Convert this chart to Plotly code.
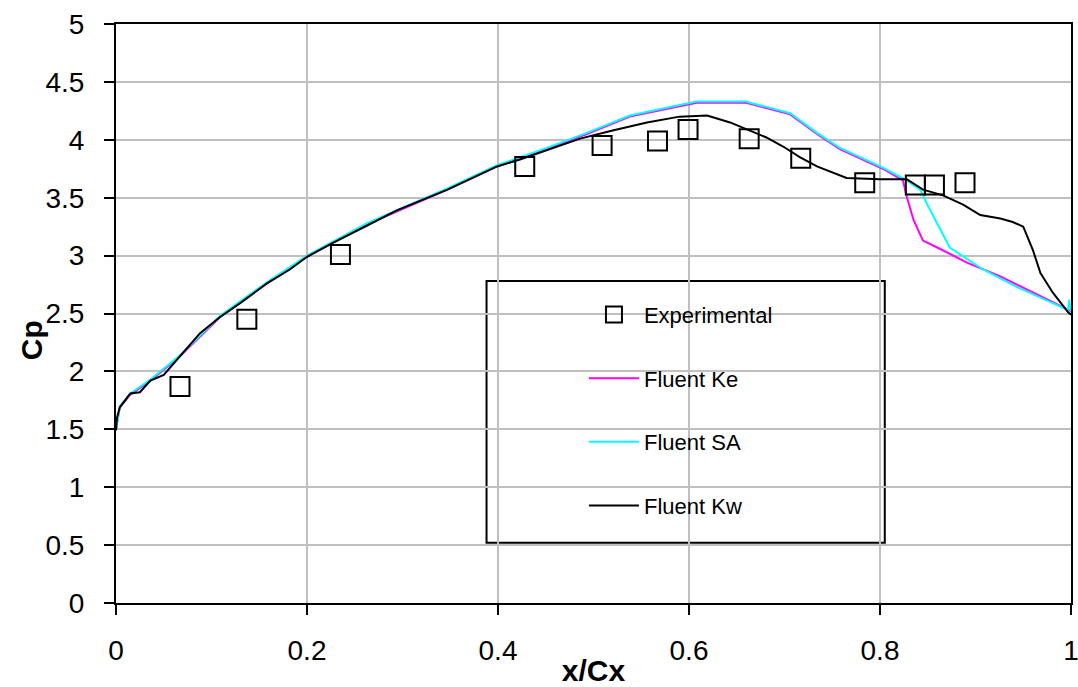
import plotly.graph_objects as go

# Experimental data
exp_x = [0.067, 0.137, 0.235, 0.428, 0.509, 0.567, 0.599, 0.663, 0.717, 0.784, 0.837, 0.857, 0.889]
exp_y = [1.87, 2.45, 3.01, 3.77, 3.95, 3.99, 4.09, 4.01, 3.84, 3.63, 3.61, 3.61, 3.63]

# Fluent k-omega
kw_x = [0, 0.001, 0.004, 0.015, 0.025, 0.036, 0.05, 0.067, 0.088, 0.109, 0.13, 0.158, 0.182,
        0.2, 0.227, 0.263, 0.294, 0.347, 0.399, 0.423, 0.451, 0.486, 0.52, 0.556, 0.59, 0.619,
        0.643, 0.664, 0.681, 0.699, 0.716, 0.734, 0.765, 0.8, 0.828, 0.845, 0.866, 0.887, 0.905,
        0.926, 0.939, 0.95, 0.96, 0.968, 0.981, 0.997, 1.0]
kw_y = [1.49, 1.6, 1.69, 1.81, 1.82, 1.92, 1.97, 2.13, 2.33, 2.47, 2.59, 2.76, 2.88,
        2.99, 3.11, 3.26, 3.39, 3.57, 3.77, 3.83, 3.91, 4.01, 4.08, 4.15, 4.20, 4.21,
        4.15, 4.08, 4.02, 3.94, 3.85, 3.77, 3.67, 3.66, 3.66, 3.57, 3.52, 3.44, 3.35,
        3.32, 3.29, 3.25, 3.05, 2.85, 2.68, 2.51, 2.49]

# Fluent SA
sa_x = [0, 0.004, 0.015, 0.036, 0.067, 0.109, 0.158, 0.2, 0.263, 0.347, 0.399, 0.451, 0.493,
        0.538, 0.59, 0.608, 0.66, 0.664, 0.706, 0.734, 0.758, 0.803, 0.828, 0.842, 0.849,
        0.863, 0.873, 0.908, 0.943, 0.978, 0.997, 0.998, 1.0]
sa_y = [1.5, 1.70, 1.81, 1.93, 2.14, 2.48, 2.77, 3.0, 3.28, 3.58, 3.78, 3.93, 4.06,
        4.21, 4.30, 4.33, 4.33, 4.32, 4.23, 4.06, 3.93, 3.76, 3.65, 3.57, 3.45,
        3.22, 3.07, 2.88, 2.73, 2.60, 2.53, 2.62, 2.52]

# Fluent k-epsilon
ke_x = [0, 0.004, 0.015, 0.036, 0.067, 0.109, 0.158, 0.2, 0.263, 0.347, 0.399, 0.451, 0.493,
        0.538, 0.59, 0.608, 0.66, 0.664, 0.706, 0.734, 0.758, 0.803, 0.824, 0.828, 0.835,
        0.845, 0.86, 0.891, 0.926, 0.96, 0.992, 1.0]
ke_y = [1.5, 1.69, 1.80, 1.92, 2.13, 2.47, 2.76, 2.99, 3.27, 3.57, 3.77, 3.92, 4.05,
        4.20, 4.29, 4.32, 4.32, 4.31, 4.22, 4.05, 3.92, 3.75, 3.65, 3.51, 3.31,
        3.13, 3.07, 2.94, 2.82, 2.68, 2.55, 2.52]

x_ticks = [0, 0.2, 0.4, 0.6, 0.8, 1]
x_tick_labels = ["0", "0.2", "0.4", "0.6", "0.8", "1"]
y_ticks = [0, 0.5, 1, 1.5, 2, 2.5, 3, 3.5, 4, 4.5, 5]
y_tick_labels = ["0", "0.5", "1", "1.5", "2", "2.5", "3", "3.5", "4", "4.5", "5"]

FONT = "Liberation Sans, Arial, sans-serif"

fig = go.Figure()
fig.add_trace(go.Scatter(x=ke_x, y=ke_y, mode="lines", name="Fluent Ke",
                         line=dict(color="#ff00ff", width=2), legendrank=2, legendgroup="b"))
fig.add_trace(go.Scatter(x=sa_x, y=sa_y, mode="lines", name="Fluent SA",
                         line=dict(color="#00ffff", width=2), legendrank=3, legendgroup="c"))
fig.add_trace(go.Scatter(x=kw_x, y=kw_y, mode="lines", name="Fluent Kw",
                         line=dict(color="#000000", width=2), legendrank=4, legendgroup="d"))
fig.add_trace(go.Scatter(x=exp_x, y=exp_y, mode="markers", name="Experimental",
                         marker=dict(symbol="square-open", size=19, color="#000000",
                                     line=dict(width=2, color="#000000")),
                         legendrank=1, legendgroup="a"))

axis_common = dict(
    showline=True, linecolor="#000000", linewidth=2, mirror=True,
    showgrid=True, gridcolor="#c0c0c0", gridwidth=2,
    ticks="outside", ticklen=10, tickwidth=2, tickcolor="#000000",
    zeroline=False, automargin=False, ticklabeloverflow="allow",
    tickfont=dict(family=FONT, size=28, color="#000000"),
)

fig.update_xaxes(range=[0, 1], tickvals=x_ticks, ticktext=x_tick_labels,
                 ticklabelstandoff=11,
                 title=dict(text="<b>x/Cx</b>", font=dict(family=FONT, size=30, color="#000000"),
                            standoff=9),
                 **axis_common)
fig.update_yaxes(range=[0, 5], tickvals=y_ticks, ticktext=y_tick_labels,
                 ticklabelstandoff=14, **axis_common)

fig.add_annotation(text="<b>Cp</b>", textangle=-90, xref="paper", yref="paper",
                   x=-0.089, y=0.454, xanchor="center", yanchor="middle", showarrow=False,
                   font=dict(family=FONT, size=30, color="#000000"))

# legend frame
fig.add_shape(type="rect", xref="paper", yref="paper", x0=0.388, x1=0.805, y0=0.104, y1=0.556,
              line=dict(color="#000000", width=2), fillcolor="rgba(255,255,255,1)", layer="below")

fig.update_layout(
    width=1078, height=687,
    margin=dict(l=116, r=7, t=24, b=84),
    paper_bgcolor="#ffffff", plot_bgcolor="#ffffff",
    showlegend=True,
    legend=dict(x=0.49, y=0.534, xanchor="left", yanchor="top",
                bgcolor="rgba(0,0,0,0)", borderwidth=0,
                font=dict(family=FONT, size=22, color="#000000"),
                tracegroupgap=32, itemwidth=50),
)

fig.write_html("out.html")
